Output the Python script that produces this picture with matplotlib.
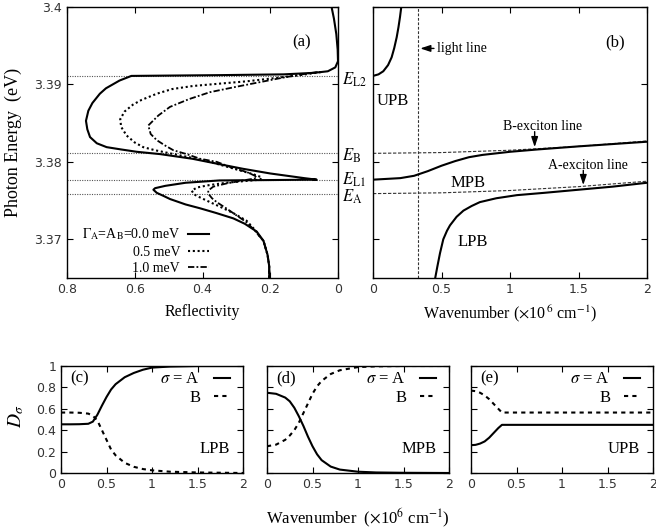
import numpy as np
import matplotlib.pyplot as plt
from matplotlib.lines import Line2D

plt.rcParams['font.family'] = ['Liberation Serif', 'DejaVu Serif']
plt.rcParams['mathtext.fontset'] = 'stix'
plt.rcParams['xtick.direction'] = 'in'
plt.rcParams['ytick.direction'] = 'in'
plt.rcParams['xtick.top'] = True
plt.rcParams['ytick.right'] = True
plt.rcParams['axes.linewidth'] = 1.0

# --- (a) reflectivity spectra (R, E) ---
R_0 = [0.019, 0.012, 0.005, 0.001, 0.0, 0.008, 0.03, 0.07, 0.16, 0.35, 0.61,
       0.645, 0.685, 0.703, 0.725, 0.737, 0.744, 0.740, 0.732, 0.712, 0.683,
       0.64, 0.594, 0.525, 0.43, 0.35, 0.28, 0.2, 0.15, 0.1, 0.063,
       0.2, 0.35, 0.45, 0.51, 0.54, 0.545, 0.535, 0.515, 0.496, 0.45, 0.407,
       0.36, 0.309, 0.275, 0.24, 0.22, 0.208, 0.203, 0.203]
E_0 = [3.4000, 3.3985, 3.3965, 3.3945, 3.3930, 3.3922, 3.3917, 3.3915, 3.3913,
       3.3912, 3.3911, 3.3905, 3.3895, 3.3888, 3.3876, 3.3866, 3.3853, 3.3842,
       3.3832, 3.3824, 3.3819, 3.3816, 3.3813, 3.3810, 3.3804, 3.3797, 3.3791,
       3.3785, 3.3782, 3.3779, 3.3777, 3.37765, 3.3776, 3.3773, 3.3769,
       3.3766, 3.3764, 3.3760, 3.3756, 3.3752, 3.3745, 3.3740, 3.3734, 3.3727,
       3.3720, 3.3710, 3.3698, 3.3680, 3.3665, 3.3648]

R_05 = [0.05, 0.112, 0.19, 0.27, 0.35, 0.428, 0.49, 0.535, 0.58, 0.605, 0.63,
        0.643, 0.64, 0.624, 0.6, 0.575, 0.54, 0.496, 0.44, 0.378, 0.33, 0.29,
        0.25, 0.225, 0.23, 0.28, 0.33, 0.38, 0.415, 0.432, 0.425, 0.407,
        0.378, 0.348, 0.31, 0.27, 0.245, 0.23, 0.22, 0.208, 0.203, 0.203]
E_05 = [3.3916, 3.3912, 3.3908, 3.3904, 3.3901, 3.3898, 3.3894, 3.3888,
        3.3880, 3.3874, 3.3865, 3.3855, 3.3845, 3.3834, 3.3825, 3.3819,
        3.3815, 3.3811, 3.3806, 3.3800, 3.3794, 3.3789, 3.3784, 3.3780,
        3.3777, 3.3775, 3.3773, 3.3770, 3.3767, 3.3763, 3.3758, 3.3754,
        3.3748, 3.3742, 3.3734, 3.3724, 3.3712, 3.3703, 3.3698, 3.3680,
        3.3665, 3.3648]

R_10 = [0.06, 0.092, 0.16, 0.23, 0.30, 0.378, 0.44, 0.496, 0.53, 0.56, 0.553,
        0.535, 0.51, 0.486, 0.447, 0.407, 0.358, 0.31, 0.27, 0.245, 0.24,
        0.28, 0.33, 0.368, 0.383, 0.383, 0.372, 0.358, 0.33, 0.3, 0.27,
        0.245, 0.23, 0.22, 0.208, 0.203, 0.203]
E_10 = [3.3916, 3.3914, 3.3909, 3.3903, 3.3897, 3.3890, 3.3881, 3.3871,
        3.3860, 3.3847, 3.3836, 3.3828, 3.3821, 3.3815, 3.3810, 3.3804,
        3.3800, 3.3792, 3.3787, 3.3782, 3.3779, 3.3776, 3.3772, 3.3768,
        3.3763, 3.3759, 3.3753, 3.3748, 3.3740, 3.3731, 3.3722, 3.3711,
        3.3703, 3.3698, 3.3680, 3.3665, 3.3648]

E_levels = [3.3911, 3.3811, 3.3777, 3.3759]
E_names = [r'$E_{\rm L2}$', r'$E_{\rm B}$', r'$E_{\rm L1}$', r'$E_{\rm A}$']
E_label_shift = [-4, -2, 0, -3]  # px

# --- (b) polariton dispersion ---
k_upb = [0, 0.04, 0.075, 0.11, 0.136, 0.155, 0.173, 0.186, 0.197, 0.21]
E_upb = [3.3911, 3.3913, 3.3917, 3.3925, 3.3935, 3.3947, 3.3961, 3.3974, 3.3987, 3.4005]
k_mpb = [0, 0.1, 0.2, 0.3, 0.4, 0.5, 0.6, 0.7, 0.8, 1.0, 1.2, 1.5, 1.75, 2.0]
E_mpb = [3.3777, 3.3778, 3.3779, 3.3782, 3.3788, 3.3795, 3.3801, 3.3806,
         3.3809, 3.3813, 3.3816, 3.3820, 3.3823, 3.3826]
k_lpb = [0.453, 0.47, 0.489, 0.513, 0.54, 0.562, 0.61, 0.66, 0.72, 0.78,
         0.9, 1.05, 1.25, 1.5, 1.75, 2.0]
E_lpb = [3.3649, 3.3665, 3.3682, 3.3700, 3.3711, 3.3718, 3.3729, 3.3737,
         3.3743, 3.3748, 3.3753, 3.3757, 3.3760, 3.3764, 3.3768, 3.3773]
k_exc = [0, 0.5, 1.0, 1.5, 2.0]
E_Bline = [3.3811, 3.3812, 3.3815, 3.3820, 3.3827]
E_Aline = [3.3759, 3.3760, 3.3763, 3.3768, 3.3775]
k_light = 0.326

# --- (c)-(e) exciton fractions ---
k_c = [0, 0.1, 0.2, 0.3, 0.35, 0.4, 0.45, 0.5, 0.55, 0.6, 0.7, 0.8, 0.9, 1.0, 1.2, 1.5, 2.0]
A_c = [0.455, 0.455, 0.456, 0.46, 0.48, 0.545, 0.63, 0.71, 0.78, 0.83, 0.895,
       0.935, 0.965, 0.985, 0.995, 1.0, 1.0]
B_c = [0.565, 0.565, 0.563, 0.555, 0.535, 0.49, 0.40, 0.31, 0.22, 0.165,
       0.095, 0.058, 0.037, 0.025, 0.012, 0.005, 0.0]
k_d = [0, 0.1, 0.2, 0.25, 0.3, 0.35, 0.4, 0.45, 0.5, 0.55, 0.6, 0.7, 0.8, 1.0, 1.2, 1.5, 2.0]
A_d = [0.75, 0.74, 0.705, 0.67, 0.61, 0.53, 0.44, 0.34, 0.25, 0.175, 0.12,
       0.06, 0.032, 0.012, 0.005, 0.002, 0.0]
B_d = [0.25, 0.265, 0.31, 0.35, 0.4, 0.47, 0.56, 0.65, 0.74, 0.81, 0.86,
       0.925, 0.96, 0.99, 0.997, 1.0, 1.0]
k_e = [0, 0.05, 0.1, 0.15, 0.2, 0.25, 0.3, 0.34, 0.4, 1.0, 2.0]
A_e = [0.26, 0.263, 0.275, 0.295, 0.33, 0.375, 0.42, 0.45, 0.45, 0.45, 0.45]
B_e = [0.77, 0.765, 0.75, 0.725, 0.69, 0.645, 0.6, 0.565, 0.565, 0.565, 0.565]

e_ticks = [3.37, 3.38, 3.39, 3.4]
e_ticklabels = ['3.37', '3.38', '3.39', '3.4']
r_ticks = [0.8, 0.6, 0.4, 0.2, 0]
r_ticklabels = ['0.8', '0.6', '0.4', '0.2', '0']
k_ticks = [0, 0.5, 1, 1.5, 2]
k_ticklabels = ['0', '0.5', '1', '1.5', '2']
d_ticks = [0, 0.2, 0.4, 0.6, 0.8, 1]
d_ticklabels = ['0', '0.2', '0.4', '0.6', '0.8', '1']

tick_font = dict(labelsize=9, labelfontfamily='DejaVu Sans', labelcolor='#333333',
                 length=4, width=0.8)

fig = plt.figure(figsize=(6.56, 5.30), dpi=100)
W, H = 656, 530


def box(l, t, r, b):
    return [l / W, 1 - b / H, (r - l) / W, (b - t) / H]


# ---------------- panel (a) ----------------
ax_a = fig.add_axes(box(67, 7, 338, 278))
for E in E_levels:
    ax_a.axhline(E, color='#555555', lw=0.8, ls=(0, (1, 1.2)))
ax_a.plot(R_0, E_0, color='k', lw=1.5, label=r'$\Gamma_{\rm A}$=A$_{\rm B}$=0.0 meV')
ax_a.plot(R_05, E_05, color='k', lw=1.5, ls=(0, (1, 1.3)), label='0.5 meV')
ax_a.plot(R_10, E_10, color='k', lw=1.3, ls=(0, (3.5, 1.2, 1, 1.2)), label='1.0 meV')
ax_a.set_xlim(0.8, 0)
ax_a.set_ylim(3.365, 3.4)
ax_a.set_xticks(r_ticks, r_ticklabels)
ax_a.set_yticks(e_ticks, e_ticklabels)
ax_a.tick_params(**tick_font)
ax_a.set_xlabel('Reflectivity', fontsize=11.5)
ax_a.xaxis.set_label_coords(0.5, -0.095)
ax_a.set_ylabel('Photon Energy  (eV)', fontsize=13)
ax_a.yaxis.set_label_coords(-0.165, 0.5)
ax_a.text(0.107, 3.39546, '(a)', fontsize=12, ha='center', va='center')
leg = ax_a.legend(loc='lower right', bbox_to_anchor=(0.525, 0.01), frameon=False,
                  markerfirst=False, fontsize=10, handlelength=1.5, handletextpad=0.6,
                  labelspacing=0.25, borderpad=0, borderaxespad=0)
for E, name, dy in zip(E_levels, E_names, E_label_shift):
    ax_a.annotate(name, xy=(1.015, E), xycoords=ax_a.get_yaxis_transform(),
                  xytext=(0, dy * 0.72), textcoords='offset points',
                  fontsize=12, ha='left', va='center', annotation_clip=False)

# ---------------- panel (b) ----------------
ax_b = fig.add_axes(box(373, 7, 647, 278))
ax_b.axvline(k_light, color='#333333', lw=0.8, ls=(0, (2.5, 1.5)))
ax_b.plot(k_exc, E_Bline, color='#333333', lw=0.8, ls=(0, (3, 1.5)))
ax_b.plot(k_exc, E_Aline, color='#333333', lw=0.8, ls=(0, (3, 1.5)))
ax_b.plot(k_upb, E_upb, color='k', lw=1.5)
ax_b.plot(k_mpb, E_mpb, color='k', lw=1.5)
ax_b.plot(k_lpb, E_lpb, color='k', lw=1.5)
ax_b.set_xlim(0, 2)
ax_b.set_ylim(3.365, 3.4)
ax_b.set_xticks(k_ticks, k_ticklabels)
ax_b.set_yticks(e_ticks)
ax_b.tick_params(labelleft=False, **tick_font)
ax_b.set_xlabel(r'Wavenumber ($\times$10$^{\,6}$ cm$^{-1}$)', fontsize=11.5)
ax_b.xaxis.set_label_coords(0.5, -0.095)
ax_b.text(1.77, 3.39546, '(b)', fontsize=12, ha='center', va='center')
ax_b.text(0.03, 3.3879, 'UPB', fontsize=12, ha='left', va='center')
ax_b.text(0.69, 3.3773, 'MPB', fontsize=12, ha='center', va='center')
ax_b.text(0.73, 3.36965, 'LPB', fontsize=12, ha='center', va='center')
ax_b.text(0.465, 3.39465, 'light line', fontsize=10, ha='left', va='center')
ax_b.annotate('', xy=(0.345, 3.39465), xytext=(0.445, 3.39465),
              arrowprops=dict(arrowstyle='-|>,head_length=0.6,head_width=0.2',
                              color='k', lw=1.0, shrinkA=0, shrinkB=0))
ax_b.text(1.24, 3.3846, 'B-exciton line', fontsize=10, ha='center', va='center')
ax_b.annotate('', xy=(1.18, 3.3819), xytext=(1.18, 3.3839),
              arrowprops=dict(arrowstyle='-|>,head_length=0.6,head_width=0.2',
                              color='k', lw=1.0, shrinkA=0, shrinkB=0))
ax_b.text(1.57, 3.3795, 'A-exciton line', fontsize=10, ha='center', va='center')
ax_b.annotate('', xy=(1.535, 3.3770), xytext=(1.535, 3.3789),
              arrowprops=dict(arrowstyle='-|>,head_length=0.6,head_width=0.2',
                              color='k', lw=1.0, shrinkA=0, shrinkB=0))

# ---------------- panels (c)-(e) ----------------
lower = [(61, k_c, A_c, B_c, '(c)', 'LPB'),
         (267, k_d, A_d, B_d, '(d)', 'MPB'),
         (471, k_e, A_e, B_e, '(e)', 'UPB')]
for i, (left, k, A, B, tag, name) in enumerate(lower):
    ax = fig.add_axes(box(left, 366, left + 182, 473))
    ax.plot(k, A, color='k', lw=1.5)
    ax.plot(k, B, color='k', lw=1.5, ls=(0, (2, 2)))
    ax.set_xlim(0, 2)
    ax.set_ylim(0, 1)
    ax.set_xticks(k_ticks, k_ticklabels)
    ax.set_yticks(d_ticks, d_ticklabels)
    ax.tick_params(**tick_font)
    if i > 0:
        ax.tick_params(labelleft=False)
    else:
        ax.set_ylabel(r'$D_\sigma$', fontsize=14)
        ax.yaxis.set_label_coords(-0.19, 0.53)
    ax.text(0.05, 0.88, tag, fontsize=12, ha='left', va='center', transform=ax.transAxes)
    ax.text(0.93, 0.22, name, fontsize=12, ha='right', va='center', transform=ax.transAxes)
    handles = [Line2D([], [], color='k', lw=1.5),
               Line2D([], [], color='k', lw=1.5, ls=(0, (2, 2)))]
    ax.legend(handles, [r'$\sigma$ = A', 'B'], loc='upper right',
              bbox_to_anchor=(0.93, 0.95), frameon=False, markerfirst=False,
              fontsize=12, handlelength=1.0, handletextpad=0.8, labelspacing=0.15,
              borderpad=0, borderaxespad=0)

fig.text(358 / W, 1 - 518 / H, r'Wavenumber  ($\times$10$^{6}$ cm$^{-1}$)',
         fontsize=12, ha='center', va='center')

fig.savefig('out.png', dpi=100)
